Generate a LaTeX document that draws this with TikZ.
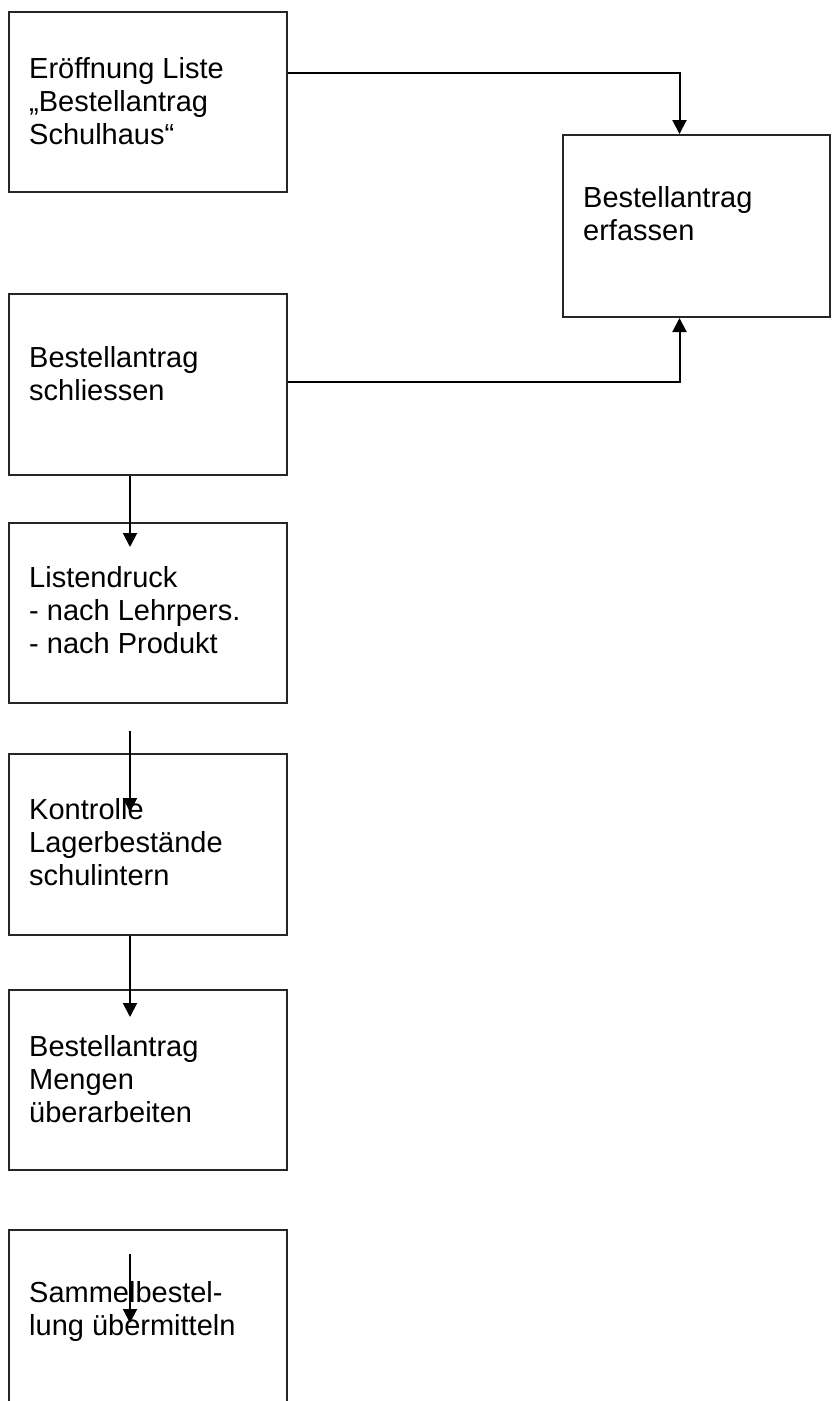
\documentclass[tikz,border=0pt]{standalone}
\usepackage{fontspec}
\setmainfont{Liberation Sans}
\usetikzlibrary{arrows.meta}
\begin{document}
\begin{tikzpicture}[x=1pt,y=-1pt,
  box/.style={draw=black!85,line width=2pt,inner sep=0pt,anchor=north west},
  txt/.style={font=\fontsize{29}{33}\selectfont,align=left,inner sep=0pt,anchor=base west},
  conn/.style={line width=2pt,-{Triangle[length=14pt,width=14pt]}}]
\useasboundingbox[fill=white] (0,0) rectangle (831,1401);
\node[box,minimum width=278pt,minimum height=180pt] (b1) at (8,11) {};
\node[box,minimum width=267pt,minimum height=182pt] (b2) at (562,134) {};
\node[box,minimum width=278pt,minimum height=181pt] (b3) at (8,293) {};
\node[box,minimum width=278pt,minimum height=180pt] (b4) at (8,522) {};
\node[box,minimum width=278pt,minimum height=181pt] (b5) at (8,753) {};
\node[box,minimum width=278pt,minimum height=180pt] (b6) at (8,989) {};
\node[box,minimum width=278pt,minimum height=200pt] (b7) at (8,1229) {};
\node[txt] (t1) at (29,144) {Eröffnung Liste\\„Bestellantrag\\Schulhaus“};
\node[txt] (t2) at (583,240) {Bestellantrag\\erfassen};
\node[txt] (t3) at (29,400) {Bestellantrag\\schliessen};
\node[txt] (t4) at (29,653) {Listendruck\\- nach Lehrpers.\\- nach Produkt};
\node[txt] (t5) at (29,885) {Kontrolle\\Lagerbestände\\schulintern};
\node[txt] (t6) at (29,1122) {Bestellantrag\\Mengen\\überarbeiten};
\node[txt] (t7) at (29,1335) {Sammelbestel-\\lung übermitteln};
\coordinate (y1) at (0,73);
\coordinate (y2) at (0,382);
\coordinate (e3) at (130,547);
\coordinate (s4) at (130,731);
\coordinate (e4) at (130,812);
\coordinate (e5) at (130,1017);
\coordinate (s6) at (130,1254);
\coordinate (e6) at (130,1323);
\draw[conn] (b1.east |- y1) -| ([xshift=-17pt]b2.north);
\draw[conn] (b3.east |- y2) -| ([xshift=-17pt]b2.south);
\draw[conn] (b3.south -| e3) -- (e3);
\draw[conn] (s4) -- (e4);
\draw[conn] (b5.south -| e5) -- (e5);
\draw[conn] (s6) -- (e6);
\end{tikzpicture}
\end{document}
